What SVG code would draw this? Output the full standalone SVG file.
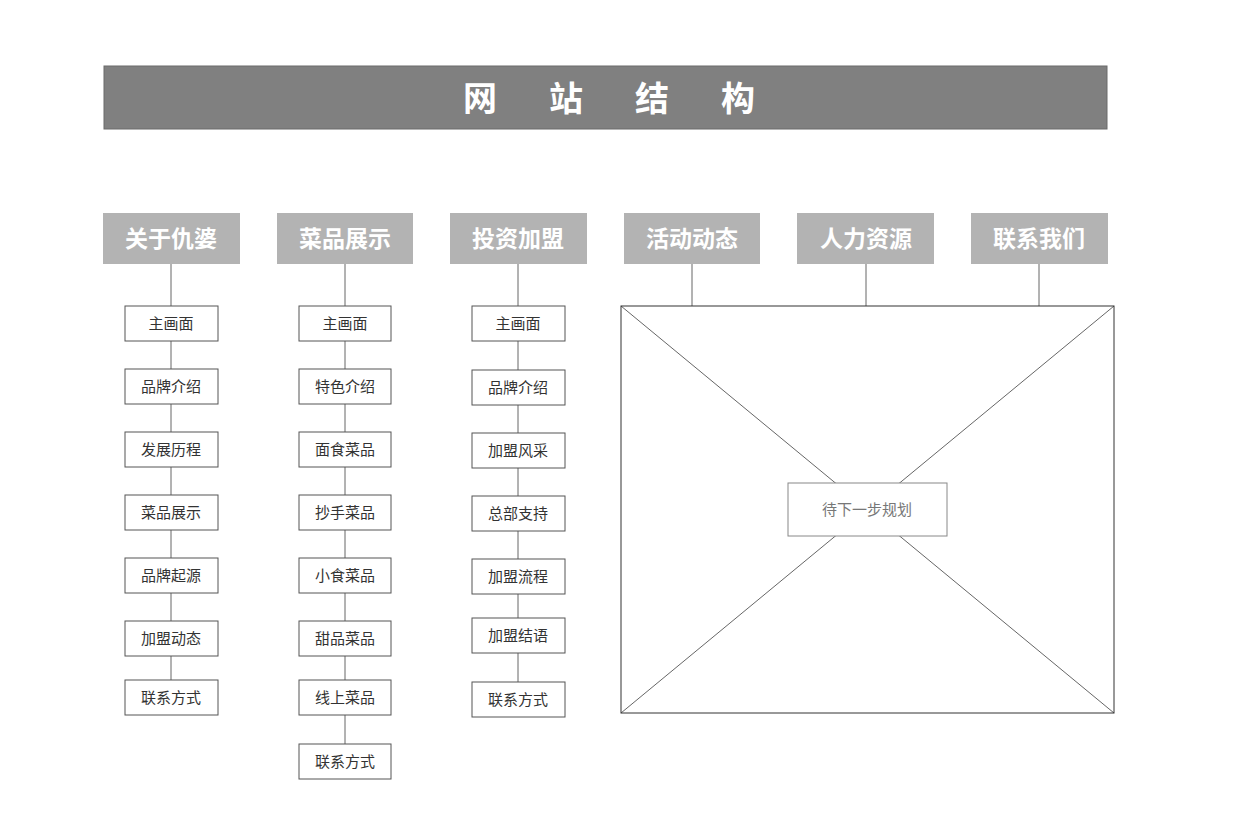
<svg xmlns="http://www.w3.org/2000/svg" width="1248" height="829" viewBox="0 0 1248 829">
<style>
.h{fill:#b3b3b3}
.ht{font-family:"Noto Sans CJK SC",sans-serif;font-size:23px;font-weight:bold;fill:#fff;text-anchor:middle}
.b{fill:#fff;stroke:#555;stroke-width:1}
.bt{font-family:"Noto Sans CJK SC",sans-serif;font-size:15px;fill:#333;text-anchor:middle}
.c{stroke:#666;stroke-width:1;fill:none}
</style>
<rect width="1248" height="829" fill="#fff"/>
<g id="title"><rect x="104" y="66" width="1003" height="63" fill="#808080" stroke="#6a6a6a"/>
<text x="635" y="111" font-family="Noto Sans CJK SC,sans-serif" font-size="34" font-weight="bold" fill="#fff" text-anchor="middle" letter-spacing="52">网站结构</text></g>
<g id="connectors">
<path class="c" d="M171 264V680M345 264V744M518 264V682M692 264V306M866 264V306M1039 264V306"/>
<path class="c" d="M621 306L1114 713M1114 306L621 713"/>
</g>
<g id="headers">
<g id="h1"><rect class="h" x="103" y="213" width="137" height="51"/><text class="ht" x="171" y="247">关于仇婆</text></g>
<g id="h2"><rect class="h" x="277" y="213" width="136" height="51"/><text class="ht" x="345" y="247">菜品展示</text></g>
<g id="h3"><rect class="h" x="450" y="213" width="137" height="51"/><text class="ht" x="518" y="247">投资加盟</text></g>
<g id="h4"><rect class="h" x="624" y="213" width="136" height="51"/><text class="ht" x="692" y="247">活动动态</text></g>
<g id="h5"><rect class="h" x="797" y="213" width="137" height="51"/><text class="ht" x="866" y="247">人力资源</text></g>
<g id="h6"><rect class="h" x="971" y="213" width="137" height="51"/><text class="ht" x="1039" y="247">联系我们</text></g>
</g>
<g id="col1">
<g><rect class="b" x="125" y="306" width="93" height="35"/><text class="bt" x="171" y="329">主画面</text></g>
<g><rect class="b" x="125" y="369" width="93" height="35"/><text class="bt" x="171" y="392">品牌介绍</text></g>
<g><rect class="b" x="125" y="432" width="93" height="35"/><text class="bt" x="171" y="455">发展历程</text></g>
<g><rect class="b" x="125" y="495" width="93" height="35"/><text class="bt" x="171" y="518">菜品展示</text></g>
<g><rect class="b" x="125" y="558" width="93" height="35"/><text class="bt" x="171" y="581">品牌起源</text></g>
<g><rect class="b" x="125" y="621" width="93" height="35"/><text class="bt" x="171" y="644">加盟动态</text></g>
<g><rect class="b" x="125" y="680" width="93" height="35"/><text class="bt" x="171" y="703">联系方式</text></g>
</g>
<g id="col2">
<g><rect class="b" x="299" y="306" width="92" height="35"/><text class="bt" x="345" y="329">主画面</text></g>
<g><rect class="b" x="299" y="369" width="92" height="35"/><text class="bt" x="345" y="392">特色介绍</text></g>
<g><rect class="b" x="299" y="432" width="92" height="35"/><text class="bt" x="345" y="455">面食菜品</text></g>
<g><rect class="b" x="299" y="495" width="92" height="35"/><text class="bt" x="345" y="518">抄手菜品</text></g>
<g><rect class="b" x="299" y="558" width="92" height="35"/><text class="bt" x="345" y="581">小食菜品</text></g>
<g><rect class="b" x="299" y="621" width="92" height="35"/><text class="bt" x="345" y="644">甜品菜品</text></g>
<g><rect class="b" x="299" y="680" width="92" height="35"/><text class="bt" x="345" y="703">线上菜品</text></g>
<g><rect class="b" x="299" y="744" width="92" height="35"/><text class="bt" x="345" y="767">联系方式</text></g>
</g>
<g id="col3">
<g><rect class="b" x="472" y="306" width="93" height="35"/><text class="bt" x="518" y="329">主画面</text></g>
<g><rect class="b" x="472" y="370" width="93" height="35"/><text class="bt" x="518" y="393">品牌介绍</text></g>
<g><rect class="b" x="472" y="433" width="93" height="35"/><text class="bt" x="518" y="456">加盟风采</text></g>
<g><rect class="b" x="472" y="496" width="93" height="35"/><text class="bt" x="518" y="519">总部支持</text></g>
<g><rect class="b" x="472" y="559" width="93" height="35"/><text class="bt" x="518" y="582">加盟流程</text></g>
<g><rect class="b" x="472" y="618" width="93" height="35"/><text class="bt" x="518" y="641">加盟结语</text></g>
<g><rect class="b" x="472" y="682" width="93" height="35"/><text class="bt" x="518" y="705">联系方式</text></g>
</g>
<g id="placeholder">
<rect x="621" y="306" width="493" height="407" fill="none" stroke="#333"/>
<rect x="788" y="483" width="159" height="53" fill="#fff" stroke="#888"/>
<text x="867" y="515" font-family="Noto Sans CJK SC,sans-serif" font-size="15" fill="#777" text-anchor="middle">待下一步规划</text>
</g>
</svg>
